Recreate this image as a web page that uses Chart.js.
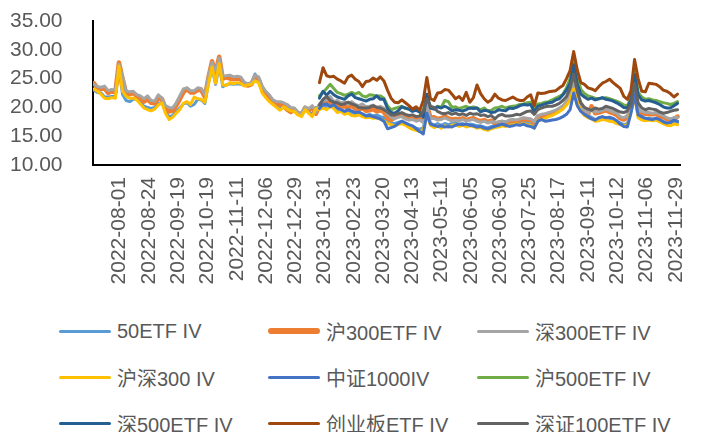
<!DOCTYPE html>
<html>
<head>
<meta charset="UTF-8">
<title>ETF IV</title>
<script src="https://cdn.jsdelivr.net/npm/chart.js@4.4.0/dist/chart.umd.min.js"></script>
<style>
  body { margin: 0; background: #fff; }
  #wrap { position: relative; width: 713px; height: 432px; overflow: hidden; }
  #box { position: absolute; left: 0; top: 0; width: 713px; height: 305px; }
  .lg { position: absolute; height: 26px; display: flex; align-items: center;
        font: 20px 'Liberation Sans', 'Noto Sans CJK SC', sans-serif; color: #595959; white-space: nowrap; }
  .lg .ln { display: inline-block; width: 52px; margin-right: 6px; border-radius: 3px; }
</style>
</head>
<body>
<div id="wrap">
  <div id="box"><canvas id="myChart" width="713" height="305"></canvas></div>
  <div id="legend"></div>
</div>
<script>
// series names / colours (Excel office palette)
var seriesNames  = ['50ETF IV', '沪300ETF IV', '深300ETF IV', '沪深300 IV', '中证1000IV', '沪500ETF IV', '深500ETF IV', '创业板ETF IV', '深证100ETF IV'];
var seriesColors = ['#5B9BD5', '#ED7D31', '#A5A5A5', '#FFC000', '#4472C4', '#70AD47', '#255E91', '#9E480E', '#636363'];

// x axis = trading day index, one tick label every 17 trading days
var tickIdx = [15, 32, 49, 66, 83, 100, 117, 134, 151, 168, 185, 202, 219, 236, 253, 270, 287, 304, 321, 338];
var tickLabels = ['2022-08-01', '2022-08-24', '2022-09-19', '2022-10-19', '2022-11-11', '2022-12-06', '2022-12-29',
  '2023-01-31', '2023-02-23', '2023-03-20', '2023-04-13', '2023-05-11', '2023-06-05', '2023-06-30', '2023-07-25',
  '2023-08-17', '2023-09-11', '2023-10-12', '2023-11-06', '2023-11-29'];
var yTicks = [10, 15, 20, 25, 30, 35];

// values, about every 2 trading days
var sampleStep = 2.08;
var lateFirstSample = 63;   // 2023-01 onwards for the last five series

var iv50etf = [
  23.0, 22.6, 22.5, 21.8, 21.8, 21.9, 21.9, 26.8, 22.3, 21.2, 21.0, 21.4, 21.5, 20.9, 20.2, 20.0, 19.8, 20.0, 20.6, 21.0, 19.4, 18.3, 18.6, 19.3, 19.9, 20.6, 20.8, 20.2,
  20.5, 21.4, 21.3, 20.7, 24.2, 26.8, 24.0, 27.3, 23.6, 23.9, 24.1, 24.0, 24.1, 24.0, 23.9, 23.8, 24.2, 25.8, 24.6, 22.9, 22.0, 21.4, 20.8, 20.3, 19.8, 20.3, 19.9, 19.6,
  19.6, 19.0, 18.7, 19.8, 19.3, 18.8, 20.0, 19.9, 20.3, 20.0, 20.6, 20.1, 19.6, 19.7, 19.2, 19.4, 19.1, 18.9, 19.1, 18.8, 18.6, 18.8, 18.5, 18.7, 18.4, 18.2, 17.5, 17.3,
  17.2, 17.4, 17.6, 17.2, 16.9, 16.7, 16.4, 16.2, 16.5, 19.0, 17.3, 16.9, 17.2, 16.9, 17.2, 17.0, 17.2, 17.3, 17.0, 17.2, 16.9, 17.1, 17.0, 16.8, 16.8, 16.6, 16.4, 16.7,
  16.8, 16.9, 17.1, 17.0, 17.2, 17.2, 17.4, 17.3, 17.5, 17.3, 17.1, 16.7, 17.9, 18.2, 18.3, 18.6, 18.8, 19.1, 19.5, 19.9, 20.6, 21.6, 23.8, 21.2, 19.7, 18.9, 18.5,
  18.3, 17.9, 18.0, 18.2, 18.1, 17.9, 17.8, 17.5, 17.3, 17.0, 17.2, 19.6, 22.5, 18.6, 18.1, 18.0, 18.1, 18.0, 18.1, 17.8, 17.5, 17.2, 17.1, 17.4, 17.3
];
var ivH300etf = [
  24.2, 23.4, 23.2, 23.3, 22.5, 22.8, 22.6, 27.8, 25.0, 22.5, 22.3, 22.5, 22.0, 21.6, 21.0, 21.4, 20.8, 20.7, 21.6, 21.5, 19.8, 19.3, 19.4, 20.3, 21.4, 22.6, 23.2, 22.6,
  22.6, 23.0, 23.0, 21.8, 25.2, 28.0, 26.0, 28.8, 25.0, 25.2, 25.0, 24.9, 25.0, 24.9, 24.0, 23.8, 24.0, 25.4, 24.9, 23.3, 22.4, 21.8, 20.9, 20.5, 20.6, 20.2, 19.6, 19.2,
  19.6, 18.9, 18.8, 19.9, 19.5, 20.0, 18.9, 20.3, 20.8, 20.9, 21.3, 20.4, 20.5, 20.1, 20.2, 19.9, 20.3, 19.8, 19.6, 19.9, 19.4, 19.5, 19.7, 19.3, 19.5, 19.2, 18.2, 17.8,
  18.3, 18.5, 18.6, 18.2, 18.0, 18.1, 17.9, 18.0, 17.6, 20.6, 18.2, 18.3, 18.0, 18.1, 18.4, 18.1, 17.9, 18.0, 17.9, 18.1, 17.8, 18.0, 18.1, 17.8, 17.6, 17.8, 17.5, 17.7,
  17.2, 17.3, 17.5, 17.3, 17.6, 17.7, 17.6, 17.8, 18.0, 17.9, 17.8, 17.3, 18.4, 18.5, 18.7, 18.9, 19.0, 19.3, 19.6, 20.0, 20.8, 21.8, 24.6, 21.6, 20.1, 19.3, 18.8,
  20.2, 19.0, 19.1, 19.3, 19.5, 19.2, 19.0, 18.7, 18.1, 17.9, 18.3, 19.7, 23.0, 19.3, 19.0, 18.9, 18.8, 18.8, 18.9, 18.5, 18.3, 18.0, 17.8, 18.0, 18.4
];
var ivS300etf = [
  24.0, 23.6, 23.5, 23.7, 22.9, 23.1, 23.0, 27.5, 25.5, 22.8, 22.7, 22.8, 22.2, 22.0, 21.5, 22.0, 21.2, 21.1, 22.2, 21.6, 20.3, 20.0, 19.9, 20.8, 22.0, 23.2, 23.4, 22.9,
  22.9, 23.4, 23.3, 22.2, 25.5, 27.8, 26.3, 28.6, 25.4, 25.5, 25.6, 25.3, 25.4, 25.3, 24.4, 24.1, 24.3, 25.6, 25.3, 23.7, 22.8, 22.2, 21.3, 21.0, 21.0, 20.8, 20.5, 20.0,
  19.9, 19.2, 19.0, 20.1, 19.8, 20.3, 19.2, 20.6, 21.2, 21.3, 21.9, 21.0, 21.2, 20.8, 20.9, 20.6, 21.0, 20.5, 20.3, 20.6, 20.1, 20.2, 20.4, 20.0, 20.2, 19.9, 18.9, 18.3,
  18.0, 18.3, 18.4, 18.0, 17.8, 17.9, 17.6, 17.8, 17.4, 20.3, 18.0, 18.1, 17.8, 17.9, 18.2, 17.9, 17.6, 17.8, 17.7, 17.9, 17.6, 17.8, 17.9, 17.6, 17.4, 17.6, 17.3, 17.5,
  17.4, 17.5, 17.6, 17.5, 17.8, 17.9, 17.8, 18.0, 18.2, 18.1, 18.0, 17.5, 18.6, 18.8, 18.9, 19.1, 19.3, 19.5, 19.9, 20.3, 21.0, 22.1, 25.0, 22.0, 20.4, 19.5, 19.0,
  19.6, 19.2, 19.3, 19.5, 19.7, 19.5, 19.2, 19.0, 18.4, 18.2, 18.6, 20.0, 23.2, 19.6, 19.3, 19.1, 19.1, 19.0, 19.1, 18.8, 18.6, 18.2, 18.0, 18.2, 18.3
];
var ivHs300 = [
  23.2, 22.8, 22.3, 21.6, 21.5, 21.7, 21.6, 27.2, 22.8, 21.9, 21.6, 21.6, 21.3, 20.6, 19.9, 19.6, 19.4, 19.7, 20.4, 20.8, 19.0, 17.9, 18.3, 19.0, 19.6, 20.7, 21.0, 20.5,
  21.8, 21.5, 21.4, 20.9, 24.0, 27.0, 24.2, 27.6, 23.9, 23.8, 24.3, 24.1, 24.3, 24.2, 23.7, 23.9, 24.0, 24.6, 24.3, 22.5, 21.7, 21.0, 20.5, 20.0, 19.5, 20.1, 19.7, 19.4,
  19.3, 18.7, 18.4, 19.6, 19.0, 18.4, 19.8, 19.6, 19.9, 19.6, 20.2, 19.8, 19.1, 19.3, 18.8, 19.0, 18.6, 18.5, 18.7, 18.4, 18.2, 18.3, 18.1, 18.2, 17.9, 17.7, 17.2, 17.0,
  16.8, 17.0, 17.2, 16.9, 16.5, 16.2, 16.0, 15.8, 16.1, 18.6, 16.9, 16.5, 16.8, 16.4, 16.8, 16.6, 16.9, 17.0, 16.7, 16.9, 16.6, 16.8, 16.7, 16.4, 16.5, 16.2, 16.0, 16.3,
  16.5, 16.6, 16.8, 16.7, 16.9, 17.0, 17.1, 17.0, 17.2, 17.0, 16.9, 16.4, 17.7, 17.9, 18.1, 18.4, 18.6, 18.9, 19.3, 19.7, 20.4, 21.3, 23.2, 20.9, 19.4, 18.6, 18.2,
  18.0, 17.6, 17.7, 17.9, 17.8, 17.6, 17.5, 17.2, 17.0, 16.8, 16.9, 19.3, 22.0, 18.2, 17.8, 17.7, 17.8, 17.7, 17.8, 17.5, 17.2, 16.9, 16.8, 17.1, 17.0
];
var ivZz1000 = [
  19.8, 20.5, 20.6, 20.1, 20.5, 19.9, 19.6, 19.3, 19.6, 19.4, 19.1, 19.2, 18.9, 18.5, 18.6, 18.4, 18.2, 18.0, 17.6, 16.3, 16.5,
  16.7, 17.2, 17.6, 17.3, 17.0, 16.8, 16.3, 15.8, 15.4, 19.0, 17.1, 16.9, 16.7, 16.8, 16.6, 16.7, 16.6, 16.9, 17.1, 17.0, 17.1, 16.9, 16.8, 16.6, 16.7, 16.4, 16.3, 16.5,
  16.7, 16.9, 17.1, 16.9, 16.7, 16.8, 17.0, 16.9, 17.1, 16.8, 16.7, 16.4, 17.6, 17.9, 17.6, 17.7, 17.8, 17.9, 18.1, 18.4, 18.8, 19.6, 22.5, 20.3, 19.3, 18.8, 18.4,
  18.0, 17.8, 18.2, 18.4, 18.2, 18.3, 18.1, 17.7, 17.1, 16.7, 16.6, 19.0, 22.2, 18.7, 18.4, 18.1, 18.0, 17.9, 18.1, 17.9, 17.5, 17.3, 17.4, 17.8, 17.6
];
var ivH500etf = [
  22.0, 22.6, 23.3, 24.0, 23.3, 22.6, 22.4, 22.1, 22.3, 22.6, 22.3, 22.6, 22.0, 21.8, 22.2, 22.1, 22.0, 22.0, 21.6, 20.3, 19.6,
  19.8, 20.0, 20.2, 19.8, 19.7, 19.5, 19.6, 19.2, 19.5, 22.0, 20.0, 19.9, 20.2, 20.0, 21.2, 21.0, 20.0, 20.1, 19.8, 20.0, 20.2, 19.9, 20.1, 19.9, 19.6, 19.9, 19.4, 19.5,
  19.9, 20.0, 20.2, 19.9, 20.1, 20.2, 20.3, 20.5, 20.6, 20.8, 20.9, 19.8, 20.6, 20.7, 20.9, 21.0, 21.3, 21.6, 21.9, 22.3, 23.4, 25.0, 28.2, 25.5, 23.1, 22.4, 22.0,
  21.8, 21.6, 21.5, 21.6, 21.7, 21.5, 21.3, 21.1, 20.8, 20.4, 20.3, 21.6, 26.8, 22.6, 21.8, 21.4, 21.5, 21.3, 21.2, 21.0, 20.8, 20.7, 20.5, 20.7, 21.0
];
var ivS500etf = [
  21.6, 22.8, 22.1, 22.8, 22.2, 21.8, 21.6, 21.4, 22.0, 22.3, 21.7, 21.5, 21.3, 21.1, 21.4, 21.5, 22.0, 21.4, 21.4, 19.8, 19.1,
  19.0, 19.4, 20.1, 19.9, 19.7, 19.3, 19.5, 19.2, 18.3, 22.3, 19.9, 19.7, 20.1, 19.9, 20.2, 19.9, 19.4, 19.6, 19.5, 19.4, 19.6, 19.9, 19.8, 19.9, 19.2, 19.5, 19.4, 19.1,
  19.2, 19.6, 19.5, 19.4, 19.9, 19.8, 20.0, 20.3, 20.5, 20.4, 20.5, 19.2, 20.2, 20.4, 20.6, 20.8, 20.9, 21.3, 21.5, 22.2, 23.0, 24.2, 27.4, 24.0, 22.3, 21.8, 21.4,
  21.6, 21.3, 21.5, 21.7, 21.4, 21.3, 21.1, 20.8, 20.4, 20.0, 19.9, 21.4, 25.7, 22.2, 21.3, 21.1, 21.2, 21.0, 20.8, 20.5, 20.1, 19.9, 19.9, 20.3, 20.7
];
var ivCyb = [
  24.3, 26.9, 25.5, 25.3, 25.4, 24.9, 24.6, 24.2, 25.3, 25.6, 24.9, 24.5, 23.6, 24.5, 24.6, 25.1, 24.7, 25.3, 24.6, 23.0, 21.6,
  20.9, 20.8, 21.3, 20.8, 20.3, 19.7, 20.1, 19.5, 21.2, 25.2, 21.5, 21.2, 22.5, 22.6, 23.1, 23.0, 22.3, 21.5, 21.9, 21.2, 22.6, 20.9, 21.7, 23.9, 22.4, 21.5, 20.9, 21.3,
  22.3, 21.6, 21.3, 21.2, 21.5, 21.8, 21.4, 21.2, 21.2, 21.8, 22.2, 20.3, 22.5, 22.4, 22.5, 22.7, 22.8, 22.9, 23.4, 23.8, 25.0, 26.4, 29.7, 26.5, 24.3, 24.0, 23.4,
  23.2, 22.9, 23.6, 24.2, 24.5, 24.9, 24.3, 23.8, 23.3, 21.9, 21.4, 22.9, 28.3, 25.0, 22.8, 22.7, 24.2, 24.1, 24.0, 23.6, 23.0, 22.8, 22.4, 21.8, 22.3
];
var ivSz100etf = [
  20.4, 21.4, 21.9, 21.2, 20.9, 20.8, 20.5, 20.6, 20.9, 20.6, 20.4, 20.0, 19.9, 19.9, 20.0, 20.3, 20.0, 19.9, 19.6, 19.2, 18.7,
  18.7, 18.9, 19.1, 18.8, 18.6, 18.7, 18.4, 18.5, 19.3, 21.5, 20.2, 20.0, 19.3, 19.0, 18.9, 19.1, 18.8, 19.0, 18.7, 18.9, 18.6, 19.0, 18.8, 18.9, 18.6, 18.7, 18.4, 18.6,
  18.0, 18.6, 18.8, 18.5, 18.5, 18.6, 18.8, 18.7, 19.0, 19.3, 19.4, 18.8, 19.6, 19.9, 20.1, 20.2, 20.2, 20.4, 20.7, 21.2, 21.9, 23.3, 25.8, 22.8, 20.8, 20.0, 19.7,
  19.5, 19.9, 19.7, 19.8, 20.2, 20.0, 19.8, 19.5, 19.2, 19.1, 19.4, 20.6, 24.2, 20.8, 19.9, 19.6, 19.8, 19.7, 19.6, 19.2, 19.0, 19.1, 19.3, 19.5, 19.6
];

var seriesData = [iv50etf, ivH300etf, ivS300etf, ivHs300, ivZz1000, ivH500etf, ivS500etf, ivCyb, ivSz100etf];
var seriesFirst = [0, 0, 0, 0, lateFirstSample, lateFirstSample, lateFirstSample, lateFirstSample, lateFirstSample];
var lineWidths = [3, 4.5, 3, 3, 3, 3, 3, 3, 3];

var datasets = seriesData.map(function (arr, s) {
  return {
    label: seriesNames[s],
    data: arr.map(function (v, k) { return { x: (seriesFirst[s] + k) * sampleStep, y: v }; }),
    borderColor: seriesColors[s],
    backgroundColor: seriesColors[s],
    borderWidth: lineWidths[s],
    pointRadius: 0,
    tension: 0,
    borderJoinStyle: 'round',
    borderCapStyle: 'round',
    order: seriesNames.length - s   // later series on top, like Excel
  };
});

var tickFont = { family: "'Liberation Sans', 'Noto Sans CJK SC', sans-serif", size: 21 };

new Chart(document.getElementById('myChart'), {
  type: 'line',
  data: { datasets: datasets },
  options: {
    responsive: false,
    devicePixelRatio: 1,
    animation: false,
    layout: { padding: { top: 21, right: 9, left: 10, bottom: 0 } },
    plugins: { legend: { display: false }, tooltip: { enabled: false } },
    scales: {
      x: {
        type: 'linear',
        min: -0.5,
        max: 340.5,
        grid: { display: false, drawTicks: false },
        border: { display: true, color: '#000', width: 2 },
        afterBuildTicks: function (scale) {
          scale.ticks = tickIdx.map(function (v) { return { value: v }; });
        },
        afterFit: function (scale) { scale.height = 140; },
        ticks: {
          autoSkip: false,
          minRotation: 90,
          maxRotation: 90,
          padding: 12,
          color: '#595959',
          font: tickFont,
          callback: function (v, i) { return tickLabels[i]; }
        }
      },
      y: {
        min: yTicks[0],
        max: yTicks[yTicks.length - 1],
        grid: { display: false, drawTicks: false },
        border: { display: true, color: '#000', width: 2 },
        afterBuildTicks: function (scale) {
          scale.ticks = yTicks.map(function (v) { return { value: v }; });
        },
        afterFit: function (scale) { scale.width = 83; },
        ticks: {
          autoSkip: false,
          padding: 0,
          crossAlign: 'far',
          color: '#595959',
          font: tickFont,
          callback: function (v) { return Number(v).toFixed(2); }
        }
      }
    }
  }
});

// legend: 3 columns x 3 rows under the chart
var legend = document.getElementById('legend');
seriesNames.forEach(function (name, s) {
  var col = s % 3, row = Math.floor(s / 3);
  var item = document.createElement('div');
  item.className = 'lg';
  item.style.left = (59 + col * 209) + 'px';
  item.style.top = (318 + row * 46) + 'px';
  var ln = document.createElement('span');
  ln.className = 'ln';
  ln.style.height = (s === 1 ? 6 : 3) + 'px';
  ln.style.background = seriesColors[s];
  item.appendChild(ln);
  item.appendChild(document.createTextNode(name));
  legend.appendChild(item);
});
</script>
</body>
</html>
